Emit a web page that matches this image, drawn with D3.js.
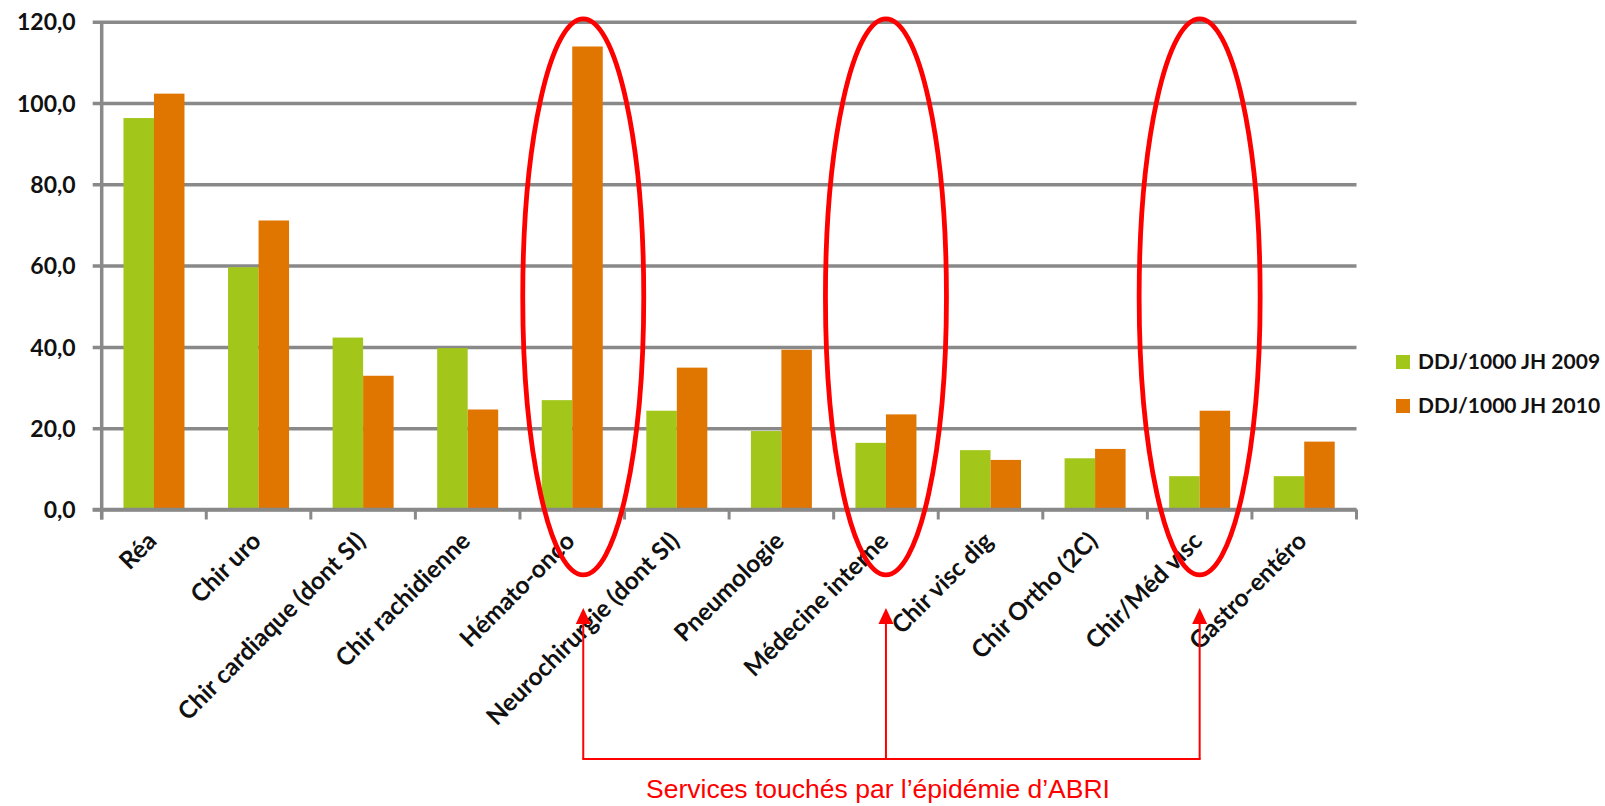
<!DOCTYPE html>
<html><head><meta charset="utf-8">
<script src="https://cdn.jsdelivr.net/npm/d3@7"></script>
<style>
html,body{margin:0;padding:0;background:#fff;}
svg{display:block;}
</style>
</head><body>
<svg id="chart" width="1605" height="806"></svg>
<script>
const categories = ["Réa","Chir uro","Chir cardiaque (dont SI)","Chir rachidienne","Hémato-onco","Neurochirurgie (dont SI)","Pneumologie","Médecine interne","Chir visc dig","Chir Ortho (2C)","Chir/Méd visc","Gastro-entéro"];
const series = ["DDJ/1000 JH 2009","DDJ/1000 JH 2010"];
const values2009 = [96.3,59.6,42.3,39.7,26.9,24.3,19.3,16.4,14.6,12.6,8.2,8.2];
const values2010 = [102.3,71.1,32.9,24.6,113.9,34.9,39.3,23.4,12.2,14.9,24.3,16.7];
const yTicks = [0,20,40,60,80,100,120];
const highlighted = ["Hémato-onco","Médecine interne","Chir/Méd visc"];
const annotation = "Services touchés par l\u2019épidémie d\u2019ABRI";

(function(){
const colors = {"DDJ/1000 JH 2009":"#A3C61A","DDJ/1000 JH 2010":"#E07600"};
const gridColor = "#898989";
const labelFont = "Lato, 'Open Sans', sans-serif";

const svg = d3.select("#chart");
const pLeft = 101.7, pRight = 1356.5, pTop = 21.7, pBottom = 509.5;

const y = d3.scaleLinear().domain([0,120]).range([pBottom, pTop]);
const x0 = d3.scaleBand().domain(categories).range([pLeft, pRight]).paddingInner(0.4166).paddingOuter(0.2083);
const x1 = d3.scaleBand().domain(series).range([0, x0.bandwidth()]);
const fr = d3.formatLocale({decimal:",", thousands:" ", grouping:[3], currency:["","€"]});
const fmt = fr.format(".1f");

// gridlines + y labels
const yAxis = d3.axisLeft(y).tickValues(yTicks).tickSize(-(pRight-pLeft)).tickSizeOuter(0).tickPadding(0).tickFormat(fmt);
const gy = svg.append("g").attr("transform",`translate(${pLeft},0)`).call(yAxis);
gy.select(".domain").remove();
gy.selectAll(".tick line").attr("stroke",gridColor).attr("stroke-width",3.5).attr("x1",-9);
gy.selectAll(".tick text").attr("x",-26).attr("dy","0.36em")
  .style("font-family",labelFont).style("font-weight","bold").style("font-size","23px").attr("fill","#111");

// y axis line
svg.append("line").attr("x1",pLeft).attr("x2",pLeft).attr("y1",y(120)).attr("y2",y(0)+10)
  .attr("stroke",gridColor).attr("stroke-width",3.5);

// bars
const rows = categories.map((c,i)=>({cat:c, vals:[{s:series[0],v:values2009[i]},{s:series[1],v:values2010[i]}]}));
const gBars = svg.append("g");
rows.forEach(r=>{
  gBars.selectAll(null).data(r.vals).enter().append("rect")
    .attr("x",d=>x0(r.cat)+x1(d.s))
    .attr("width",x1.bandwidth())
    .attr("y",d=>y(d.v))
    .attr("height",d=>y(0)-y(d.v))
    .attr("fill",d=>colors[d.s]);
});

// x axis
svg.append("line").attr("x1",pLeft-9).attr("x2",pRight).attr("y1",y(0)).attr("y2",y(0))
  .attr("stroke",gridColor).attr("stroke-width",3.5);
const step = x0.step();
svg.append("g").selectAll("line").data(d3.range(categories.length+1)).enter().append("line")
  .attr("x1",i=>pLeft+i*step).attr("x2",i=>pLeft+i*step)
  .attr("y1",y(0)).attr("y2",y(0)+10)
  .attr("stroke",gridColor).attr("stroke-width",3);

// x labels
svg.append("g").selectAll("text").data(categories).enter().append("text")
  .attr("transform",d=>`translate(${x0(d)+x0.bandwidth()/2+4},${y(0)+33}) rotate(-45)`)
  .attr("text-anchor","end")
  .style("font-family",labelFont).style("font-weight","bold").style("font-size","24.5px")
  .attr("fill","#111").text(d=>d);

// legend
const lg = svg.append("g").attr("transform","translate(1396,355)");
series.forEach((s,i)=>{
  lg.append("rect").attr("x",0).attr("y",i*44).attr("width",14).attr("height",14).attr("fill",colors[s]);
  lg.append("text").attr("x",22).attr("y",i*44+14)
    .style("font-family",labelFont).style("font-weight","bold").style("font-size","21px")
    .attr("fill","#111").text(s);
});

// ellipses & arrows
const red = "#FF0000";
const offs = {"Hémato-onco":11,"Médecine interne":0,"Chir/Méd visc":0};
const cxOf = c => x0(c)+x0.bandwidth()/2+offs[c];
svg.append("g").selectAll("ellipse").data(highlighted).enter().append("ellipse")
  .attr("cx",cxOf).attr("cy",296.8).attr("rx",60.5).attr("ry",278)
  .attr("fill","none").attr("stroke",red).attr("stroke-width",4.8);

const arrowTop = 608, arrowBase = 623, lineY = 759;
const ga = svg.append("g");
highlighted.forEach(c=>{
  const ax = cxOf(c);
  ga.append("line").attr("x1",ax).attr("x2",ax).attr("y1",arrowBase).attr("y2",lineY)
    .attr("stroke",red).attr("stroke-width",2);
  ga.append("path").attr("d",`M${ax},${arrowTop} L${ax-7.5},${arrowBase+1} L${ax+7.5},${arrowBase+1} Z`).attr("fill",red);
});
ga.append("line").attr("x1",cxOf(highlighted[0])-1).attr("x2",cxOf(highlighted[2])+1).attr("y1",lineY).attr("y2",lineY)
  .attr("stroke",red).attr("stroke-width",2);
svg.append("text").attr("x",646).attr("y",798)
  .style("font-family","'Liberation Sans', Arial, sans-serif").style("font-size","26.5px")
  .attr("fill",red).text(annotation);
})();
</script>
</body></html>
